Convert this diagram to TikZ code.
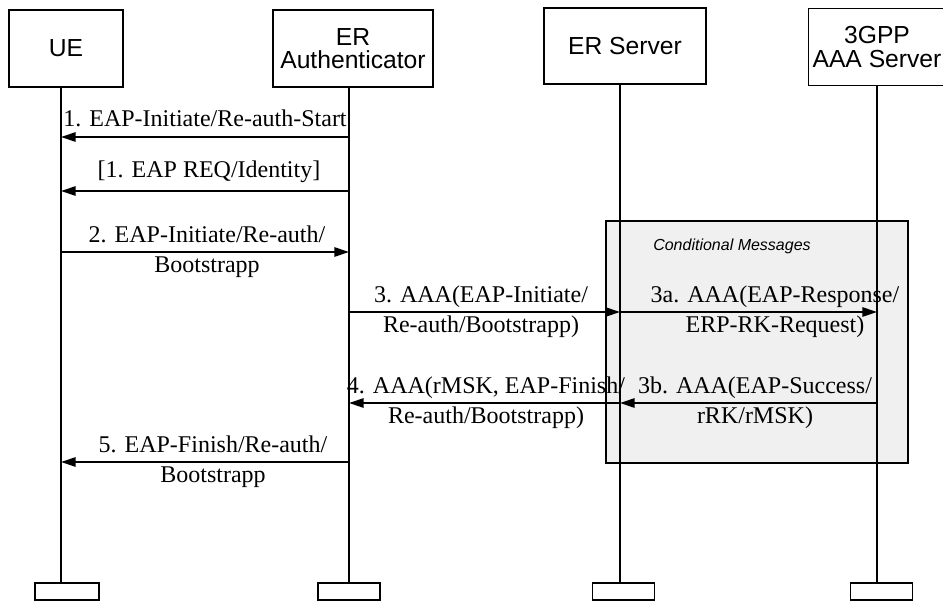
\documentclass[tikz,border=0pt]{standalone}
\usepackage{fontspec}
\setmainfont{Liberation Serif}
\setsansfont{Liberation Sans}
\usetikzlibrary{arrows.meta}
\tikzset{
  actor/.style={draw,line width=0.9pt,minimum height=57.75pt,align=center,
    font=\sffamily\fontsize{18.5}{17.5}\selectfont},
  endbox/.style={draw,line width=0.9pt,minimum height=12.75pt,inner sep=0pt},
  life/.style={line width=1.4pt},
  msg/.style={line width=1.4pt,-{Triangle[length=11pt,width=7pt]}},
  lbl/.style={align=center,inner sep=0pt,font=\fontsize{18}{22.5}\selectfont},
}
\begin{document}
\begin{tikzpicture}[x=0.75pt,y=-0.75pt]
\useasboundingbox (0,0) rectangle (943,601);

% the four parties
\node[actor,minimum width=85.5pt] (ue) at (66,48.5) {UE};
\node[actor,minimum width=120pt] (auth) at (353,48.5) {ER\\Authenticator};
\node[actor,minimum width=121.5pt,minimum height=57pt] (ers) at (625,46) {ER Server};
\node[actor,minimum width=102pt] (aaa) at (877,47) {3GPP\\AAA Server};

\node[endbox,minimum width=48pt] (ue-end) at (67,591.5) {};
\node[endbox,minimum width=46.5pt] (auth-end) at (349,591.5) {};
\node[endbox,minimum width=47pt] (ers-end) at (623.5,591.5) {};
\node[endbox,minimum width=47pt] (aaa-end) at (881.5,591.5) {};

% conditional part
\draw[line width=1.1pt,fill=black!6] (606,221) rectangle (908,463);
\node[font=\sffamily\itshape\fontsize{12}{14}\selectfont] (cond) at (732,246) {Conditional Messages};

% lifelines
\coordinate (ueL) at (61,0);
\coordinate (authL) at (349,0);
\coordinate (ersL) at (620,0);
\coordinate (aaaL) at (877,0);
\foreach \a in {ue,auth,ers,aaa}
  \draw[life] (\a.south -| \a L) -- (\a-end.north -| \a L);

% messages
\coordinate (y1) at (0,137);
\coordinate (y1b) at (0,191);
\coordinate (y2) at (0,252);
\coordinate (y3) at (0,312);
\coordinate (y4) at (0,403);
\coordinate (y5) at (0,462);

\draw[msg] (authL |- y1) -- (ueL |- y1);
\draw[msg] (authL |- y1b) -- (ueL |- y1b);
\draw[msg] (ueL |- y2) -- (authL |- y2);
\draw[msg] (authL |- y3) -- (ersL |- y3);
\draw[msg] (ersL |- y3) -- (aaaL |- y3);
\draw[msg] (aaaL |- y4) -- (ersL |- y4);
\draw[msg] (ersL |- y4) -- (authL |- y4);
\draw[msg] (authL |- y5) -- (ueL |- y5);

\node[lbl] (l1) at (205,118) {1. EAP-Initiate/Re-auth-Start};
\node[lbl] (l1b) at (209,172) {[1. EAP REQ/Identity]};
\node[lbl] (l2) at (207,252) {2. EAP-Initiate/Re-auth/\\Bootstrapp};
\node[lbl] (l3) at (481,312) {3. AAA(EAP-Initiate/\\Re-auth/Bootstrapp)};
\node[lbl] (l3a) at (775,312) {3a. AAA(EAP-Response/\\ERP-RK-Request)};
\node[lbl] (l4) at (486,403) {4. AAA(rMSK, EAP-Finish/\\Re-auth/Bootstrapp)};
\node[lbl] (l3b) at (755,403) {3b. AAA(EAP-Success/\\rRK/rMSK)};
\node[lbl] (l5) at (213,462) {5. EAP-Finish/Re-auth/\\Bootstrapp};

\end{tikzpicture}
\end{document}
